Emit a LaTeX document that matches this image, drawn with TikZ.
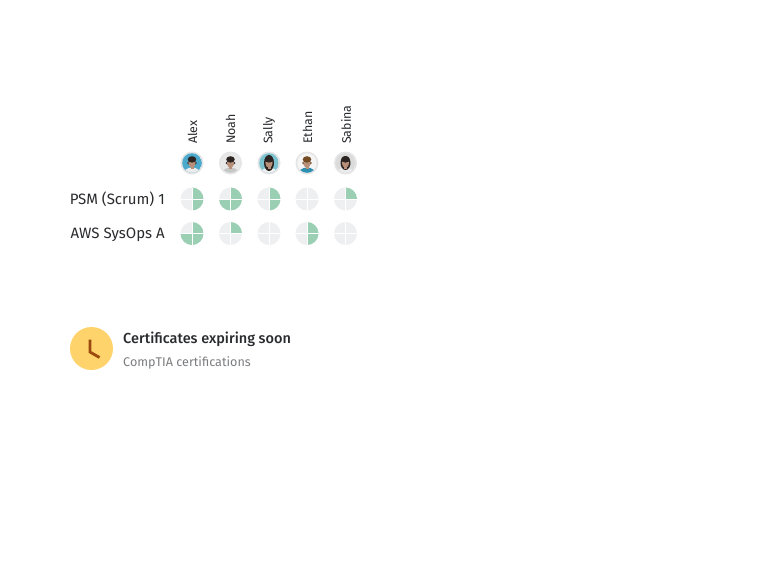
\documentclass[tikz,border=0pt]{standalone}
\usepackage{fontspec}
\setmainfont{Fira Sans}
\newfontfamily\medfont{Fira Sans Medium}
\definecolor{pieoff}{HTML}{EEEFF1}
\definecolor{pieon}{HTML}{9BCFB4}
\definecolor{inkdark}{HTML}{2A2B2E}
\definecolor{inkgray}{HTML}{7C7D80}
\definecolor{clockbg}{HTML}{FFD36B}
\definecolor{clockhand}{HTML}{9A4A0C}
\definecolor{ringgray}{HTML}{E4E5E6}
\definecolor{skin}{HTML}{B88F78}
\definecolor{hair}{HTML}{2B2422}
\definecolor{alexbg}{HTML}{4BA9CC}
\definecolor{sallybg}{HTML}{7CC3CF}
\definecolor{ethanshirt}{HTML}{2F8FB0}
\tikzset{
  name label/.style={rotate=90,anchor=west,font=\fontsize{12.4}{12.4}\selectfont,text=inkdark,inner sep=0pt},
  skill label/.style={anchor=east,font=\fontsize{15}{15}\selectfont,text=inkdark,inner sep=0pt},
  title label/.style={anchor=west,font=\fontsize{14.5}{14.5}\medfont,text=inkdark,inner sep=0pt},
  sub label/.style={anchor=west,font=\fontsize{12.6}{12.6}\selectfont,text=inkgray,inner sep=0pt}
}
% #1 x, #2 y, #3 list of start angles of the green quarters
\newcommand{\skillpie}[3]{
  \fill[pieoff] (#1,#2) circle (11.5);
  \foreach \a in {#3} {
    \fill[pieon] (#1,#2) -- ++(\a:11.5) arc[start angle=\a,delta angle=-90,radius=11.5] -- cycle;
  }
  \draw[white,line width=1pt] (#1-11.5,#2) -- (#1+11.5,#2);
  \draw[white,line width=1pt] (#1,#2-11.5) -- (#1,#2+11.5);
}
% #1 x, #2 y, #3 background, #4 shirt, #5 hair, #6 height of the hair behind the face
\newcommand{\avatar}[6]{
  \fill[ringgray] (#1,#2) circle (11.5);
  \begin{scope}
    \clip (#1,#2) circle (9.8);
    \fill[#3] (#1,#2) circle (9.8);
    \fill[#4] (#1,#2+11) ellipse (8.5 and 6.5);
    \fill[#5] (#1,#2) ellipse (5 and #6);
    \fill[skin] (#1-1.5,#2+2) rectangle (#1+1.5,#2+6);
    \fill[skin] (#1,#2) ellipse (3.6 and 4.8);
    \fill[#5] (#1,#2-3.6) ellipse (4.3 and 3.2);
  \end{scope}
}
\begin{document}
\begin{tikzpicture}[x=1pt,y=-1pt]
\useasboundingbox (0,0) rectangle (768,576);
\fill[white] (0,0) rectangle (768,576);

%names
\node[name label] (alex) at (192.5,144) {Alex};
\node[name label] (noah) at (230.5,144) {Noah};
\node[name label] (sally) at (269,144) {Sally};
\node[name label] (ethan) at (307.5,144) {Ethan};
\node[name label] (sabina) at (346,144) {Sabina};

%avatars
\avatar{192}{163}{alexbg}{gray!15}{hair}{2}
\avatar{230.5}{163}{gray!18}{gray!45}{hair}{2}
\avatar{269}{163}{sallybg}{gray!10}{hair}{8}
\avatar{307}{163}{gray!8}{ethanshirt}{brown!60!black}{2}
\avatar{345.5}{163}{gray!28}{gray!15}{hair}{7}

%skills
\node[skill label] (psm) at (165,199) {PSM (Scrum) 1};
\node[skill label] (aws) at (165,234.5) {AWS SysOps A};

%first row
\skillpie{192}{199}{0,90}
\skillpie{230.5}{199}{0,90,180}
\skillpie{269}{199}{0,90}
\skillpie{307}{199}{}
\skillpie{345.5}{199}{0}

%second row
\skillpie{192}{233.5}{0,90,180}
\skillpie{230.5}{233.5}{0}
\skillpie{269}{233.5}{}
\skillpie{307}{233.5}{0,90}
\skillpie{345.5}{233.5}{}

%clock
\fill[clockbg] (91.5,348.5) circle (21.5);
\draw[clockhand,line width=2.8pt] (90,339.5) -- (90,352) -- (99.5,357.5);

\node[title label] (title) at (123,339) {Certificates expiring soon};
\node[sub label] (sub) at (123,363) {CompTIA certifications};
\end{tikzpicture}
\end{document}
